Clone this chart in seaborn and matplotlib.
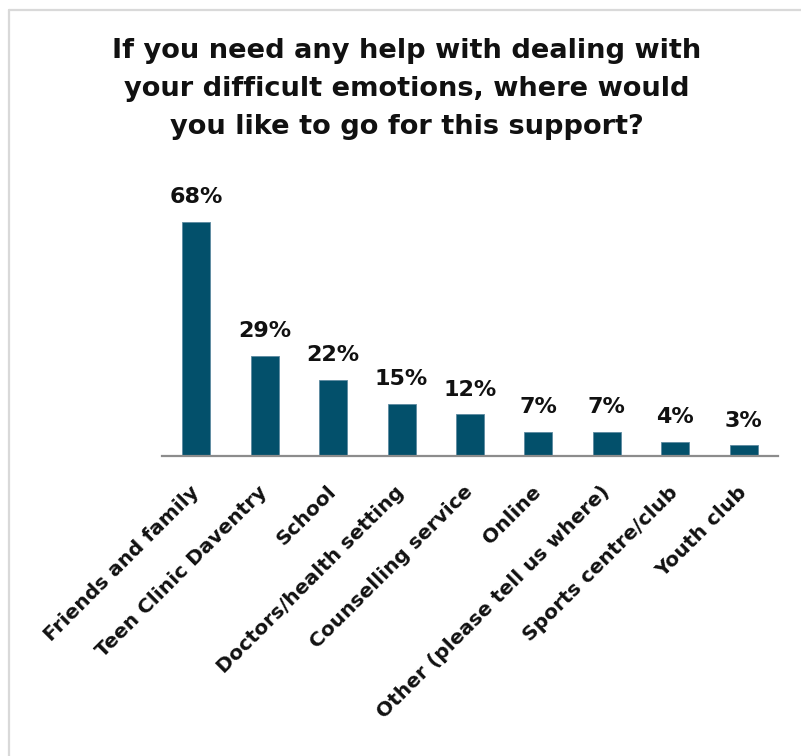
import matplotlib
matplotlib.use("Agg")
import matplotlib.pyplot as plt
from matplotlib.lines import Line2D
import seaborn as sns
import pandas as pd

categories = [
    "Friends and family",
    "Teen Clinic Daventry",
    "School",
    "Doctors/health setting",
    "Counselling service",
    "Online",
    "Other (please tell us where)",
    "Sports centre/club",
    "Youth club",
]
percentages = [68, 29, 22, 15, 12, 7, 7, 4, 3]
title = ("If you need any help with dealing with\n"
         "your difficult emotions, where would\n"
         "you like to go for this support?")

bar_color = "#03506B"

sns.set_theme(style="white")
plt.rcParams["font.family"] = ["DejaVu Sans"]

df = pd.DataFrame({"place": categories, "pct": percentages})

fig = plt.figure(figsize=(8.01, 7.56), dpi=100)
ax = fig.add_axes([162 / 801, 300.3 / 756, 616 / 801, 234 / 756])

sns.barplot(data=df, x="place", y="pct", color=bar_color, width=0.41,
            saturation=1, ax=ax, edgecolor="#5d8aa0", linewidth=0.6)

ax.set_xlim(-0.5, len(categories) - 0.5)
ax.set_ylim(0, 68)
ax.set_xlabel("")
ax.set_ylabel("")
ax.set_yticks([])

for s in ["top", "right", "left"]:
    ax.spines[s].set_visible(False)
ax.spines["bottom"].set_color("#8c8c8c")
ax.spines["bottom"].set_linewidth(1.6)

# value labels over each bar
for i, v in enumerate(percentages):
    ax.annotate(f"{v}%", xy=(i, v), xytext=(0, 13.5), textcoords="offset points",
                ha="center", va="baseline", fontsize=16, fontweight="bold",
                color="#111111", annotation_clip=False)

ax.set_xticks(range(len(categories)))
ax.set_xticklabels(categories, rotation=45, ha="right", va="center",
                   rotation_mode="anchor", fontsize=14.5, fontweight="bold",
                   color="#111111")
ax.tick_params(axis="x", length=0, pad=24)

fig.text(0.508, 1 - 89 / 756, title, ha="center", va="center",
         fontsize=19.6, fontweight="bold", color="#111111", linespacing=1.58)

# light frame on the top and left edges
frame_kw = dict(color="#d9d9d9", linewidth=1.6, transform=fig.transFigure)
fig.add_artist(Line2D([9 / 801, 9 / 801], [0, 1 - 10 / 756], **frame_kw))
fig.add_artist(Line2D([9 / 801, 1], [1 - 10 / 756, 1 - 10 / 756], **frame_kw))

fig.savefig("out.png", dpi=100, facecolor="white")
